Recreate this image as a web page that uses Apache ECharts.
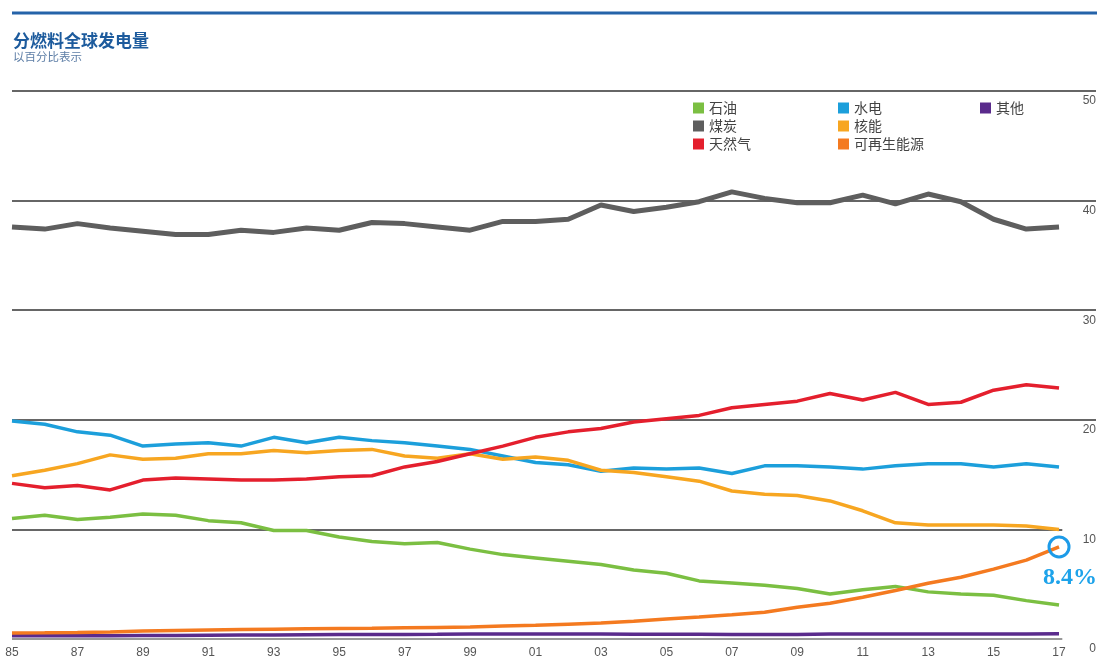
<!DOCTYPE html>
<html>
<head>
<meta charset="utf-8">
<script src="https://cdn.jsdelivr.net/npm/echarts@6/dist/echarts.min.js"></script>
<style>
html,body{margin:0;padding:0;background:#fff;}
#chart{width:1099px;height:659px;}
</style>
</head>
<body>
<div id="chart"></div>
<script>
// ---- data ----
const years = [1985,1986,1987,1988,1989,1990,1991,1992,1993,1994,1995,1996,1997,1998,1999,2000,2001,2002,2003,2004,2005,2006,2007,2008,2009,2010,2011,2012,2013,2014,2015,2016,2017];
const tickLabels = years.map(y => String(y).slice(2));
const oil = [11.0,11.3,10.9,11.1,11.4,11.3,10.8,10.6,9.9,9.9,9.3,8.9,8.7,8.8,8.2,7.7,7.4,7.1,6.8,6.3,6.0,5.3,5.1,4.9,4.6,4.1,4.5,4.8,4.3,4.1,4.0,3.5,3.1];
const coal = [37.6,37.4,37.9,37.5,37.2,36.9,36.9,37.3,37.1,37.5,37.3,38.0,37.9,37.6,37.3,38.1,38.1,38.3,39.6,39.0,39.4,39.9,40.8,40.2,39.8,39.8,40.5,39.7,40.6,39.9,38.3,37.4,37.6];
const gas = [14.2,13.8,14.0,13.6,14.5,14.7,14.6,14.5,14.5,14.6,14.8,14.9,15.7,16.2,16.9,17.6,18.4,18.9,19.2,19.8,20.1,20.4,21.1,21.4,21.7,22.4,21.8,22.5,21.4,21.6,22.7,23.2,22.9];
const hydro = [19.9,19.6,18.9,18.6,17.6,17.8,17.9,17.6,18.4,17.9,18.4,18.1,17.9,17.6,17.3,16.7,16.1,15.9,15.3,15.6,15.5,15.6,15.1,15.8,15.8,15.7,15.5,15.8,16.0,16.0,15.7,16.0,15.7];
const nuclear = [14.9,15.4,16.0,16.8,16.4,16.5,16.9,16.9,17.2,17.0,17.2,17.3,16.7,16.5,16.9,16.4,16.6,16.3,15.4,15.2,14.8,14.4,13.5,13.2,13.1,12.6,11.7,10.6,10.4,10.4,10.4,10.3,10.0];
const renewables = [0.55,0.57,0.6,0.65,0.72,0.78,0.82,0.86,0.9,0.93,0.96,0.98,1.02,1.06,1.1,1.18,1.25,1.35,1.45,1.62,1.82,2.0,2.21,2.45,2.9,3.27,3.81,4.42,5.08,5.63,6.38,7.2,8.4];
const other = [0.3,0.3,0.3,0.3,0.32,0.33,0.35,0.36,0.36,0.38,0.4,0.42,0.42,0.43,0.45,0.45,0.45,0.45,0.45,0.44,0.44,0.43,0.42,0.42,0.42,0.45,0.45,0.45,0.45,0.45,0.45,0.46,0.48];
const yTicks = [0,10,20,30,40,50];
const annotationText = '8.4%';

const names = {oil:'石油', coal:'煤炭', gas:'天然气', hydro:'水电', nuclear:'核能', renew:'可再生能源', other:'其他'};
const colors = {oil:'#7bbf42', coal:'#5e5e5e', gas:'#e41f2d', hydro:'#1c9fdb', nuclear:'#f7a621', renew:'#f47a20', other:'#5a2b8c'};

const toPairs = arr => arr.map((v,i) => [years[i]-years[0], v]);
const lastIdx = years.length - 1;
const xMax = 33.13;

const baseFont = "'Liberation Sans', 'Noto Sans CJK SC', sans-serif";
const cjkFont = "'Noto Sans CJK SC', 'Liberation Sans', sans-serif";

function lineSeries(key, arr, width, extra) {
  return Object.assign({
    name: names[key],
    type: 'line',
    data: toPairs(arr),
    symbol: 'none',
    showSymbol: false,
    smooth: false,
    lineStyle: {color: colors[key], width: width},
    itemStyle: {color: colors[key]},
    emphasis: {disabled: true},
    z: 3
  }, extra || {});
}

const chart = echarts.init(document.getElementById('chart'), null, {renderer: 'canvas'});

const legendText = {fontSize: 14, color: '#444', fontFamily: cjkFont};

const option = {
  animation: false,
  backgroundColor: '#ffffff',
  title: {
    text: '分燃料全球发电量',
    subtext: '以百分比表示',
    left: 8,
    top: 27,
    itemGap: 2,
    textStyle: {fontSize: 17, fontWeight: 'bold', color: '#1d5b9d', fontFamily: cjkFont},
    subtextStyle: {fontSize: 11.5, color: '#5d7ea6', fontFamily: cjkFont}
  },
  graphic: [{
    type: 'line',
    shape: {x1: 12, y1: 13, x2: 1097, y2: 13},
    style: {stroke: '#2563a9', lineWidth: 3},
    silent: true
  }],
  legend: [
    {left: 688, top: 96, orient: 'vertical', icon: 'rect', itemWidth: 11, itemHeight: 11, itemGap: 4,
     data: [names.oil, names.coal, names.gas], textStyle: legendText, selectedMode: false},
    {left: 833, top: 96, orient: 'vertical', icon: 'rect', itemWidth: 11, itemHeight: 11, itemGap: 4,
     data: [names.hydro, names.nuclear, names.renew], textStyle: legendText, selectedMode: false},
    {left: 975, top: 96, orient: 'vertical', icon: 'rect', itemWidth: 11, itemHeight: 11, itemGap: 4,
     data: [names.other], textStyle: legendText, selectedMode: false}
  ],
  grid: {left: 12, right: 2, top: 91, bottom: 17, containLabel: false},
  xAxis: {
    type: 'value',
    min: 0,
    max: xMax,
    interval: 2,
    axisLine: {show: false},
    axisTick: {show: false},
    splitLine: {show: false},
    axisLabel: {
      margin: 8,
      fontSize: 12,
      color: '#555',
      fontFamily: baseFont,
      showMaxLabel: false,
      formatter: function (v) {
        const i = Math.round(v);
        if (Math.abs(v - i) > 1e-6 || i > lastIdx || i % 2 !== 0) return '';
        return tickLabels[i];
      }
    }
  },
  yAxis: {
    type: 'value',
    position: 'right',
    min: yTicks[0],
    max: yTicks[yTicks.length-1],
    interval: 10,
    axisLine: {show: false},
    axisTick: {show: false},
    splitLine: {show: false},
    axisLabel: {
      inside: true,
      margin: 0,
      verticalAlign: 'top',
      padding: [4, 0, 0, 0],
      fontSize: 12,
      color: '#555',
      fontFamily: baseFont
    }
  },
  series: [
    lineSeries('other', other, 3.5, {
      markLine: {
        silent: true,
        z: 1,
        symbol: ['none','none'],
        label: {show: false},
        lineStyle: {color: '#333', width: 1.5, type: 'solid'},
        emphasis: {disabled: true},
        data: [
          {yAxis: 50}, {yAxis: 40}, {yAxis: 30}, {yAxis: 20},
          [{coord: [0, 10]}, {coord: [lastIdx + 0.1, 10]}],
          [{coord: [0, 0], lineStyle: {color: '#777', width: 1.5}}, {coord: [lastIdx + 0.1, 0]}]
        ]
      }
    }),
    lineSeries('coal', coal, 5),
    lineSeries('hydro', hydro, 3.5),
    lineSeries('nuclear', nuclear, 3.5),
    lineSeries('gas', gas, 3.5),
    lineSeries('oil', oil, 3.5),
    lineSeries('renew', renewables, 3.5, {
      markPoint: {
        silent: true,
        symbol: 'circle',
        symbolSize: 20,
        itemStyle: {color: 'rgba(255,255,255,0)', borderColor: '#1d9be8', borderWidth: 3},
        label: {
          show: true,
          position: 'bottom',
          distance: 7,
          offset: [11, 0],
          formatter: annotationText,
          color: '#1ea3ea',
          fontSize: 24,
          fontWeight: 'bold',
          fontFamily: "'Liberation Serif', 'DejaVu Serif', serif"
        },
        data: [{coord: [lastIdx, renewables[lastIdx]]}]
      }
    })
  ]
};

chart.setOption(option);
</script>
</body>
</html>
